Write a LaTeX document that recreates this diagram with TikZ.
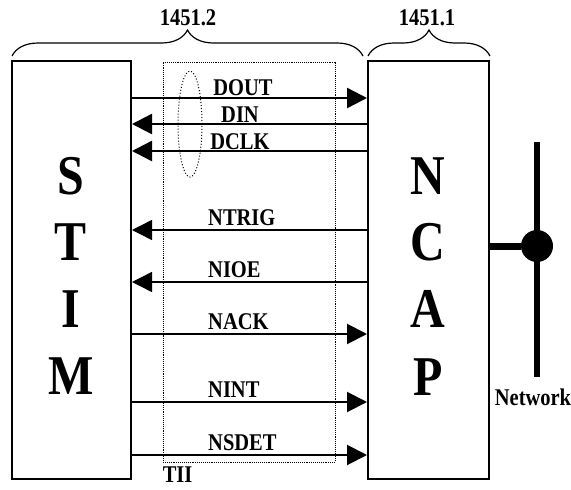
\documentclass[tikz,border=0pt]{standalone}
\usepackage{graphicx}
\usepackage{fontspec}
\setmainfont{Liberation Serif}
\usetikzlibrary{arrows.meta,decorations.pathreplacing,shapes.geometric}
\newcommand\vsc[1]{\scalebox{1}[1.17]{#1}}
\begin{document}
\begin{tikzpicture}[x=1pt,y=-1pt,
  lbl/.style={font=\bfseries\fontsize{20.5}{20.5}\selectfont, inner sep=0pt},
  big/.style={font=\bfseries\fontsize{48}{48}\selectfont, inner sep=0pt},
  blockbox/.style={draw, line width=2pt, rectangle, minimum height=418pt, inner sep=0pt},
  sigthick/.style={line width=2.4pt, -{Triangle[length=20pt,width=20pt]}},
  sigmid/.style={line width=2pt, -{Triangle[length=20pt,width=20pt]}},
  sigthin/.style={line width=1.4pt, -{Triangle[length=20pt,width=20pt]}},
  bracestyle/.style={line width=1.2pt, decorate, decoration={brace, amplitude=26pt}}]
\useasboundingbox (0,0) rectangle (571,490);
\fill[white] (0,0) rectangle (571,490);

% blocks
\node[blockbox, minimum width=119pt] (stim) at (71.5,270) {};
\node[blockbox, minimum width=121pt] (ncap) at (428.5,270) {};
\node[draw, densely dotted, line width=0.9pt, minimum width=172pt, minimum height=400pt, inner sep=0pt] (tii) at (249,262) {};
\node[draw, dotted, line width=1pt, ellipse, minimum width=24pt, minimum height=106pt, inner sep=0pt] (grp) at (190,124) {};

% big letters
\node[big] (s) at (71,176) {\vsc{S}};
\node[big] (t) at (71,242) {\vsc{T}};
\node[big] (i) at (71,309) {\vsc{I}};
\node[big] (m) at (71,376) {\vsc{M}};
\node[big] (n) at (428,176) {\vsc{N}};
\node[big] (c) at (428,242) {\vsc{C}};
\node[big] (a) at (428,309) {\vsc{A}};
\node[big] (p) at (428,377) {\vsc{P}};

% signal levels
\coordinate (ydout) at (0,98);
\coordinate (ydin) at (0,124);
\coordinate (ydclk) at (0,151);
\coordinate (yntrig) at (0,230);
\coordinate (ynioe) at (0,282);
\coordinate (ynack) at (0,334);
\coordinate (ynint) at (0,402);
\coordinate (ynsdet) at (0,455);

\draw[sigthick] (stim.east |- ydout) -- (ncap.west |- ydout);
\draw[sigthick] (ncap.west |- ydin) -- (stim.east |- ydin);
\draw[sigthick] (ncap.west |- ydclk) -- (stim.east |- ydclk);
\draw[sigthin] (ncap.west |- yntrig) -- (stim.east |- yntrig);
\draw[sigthin] (ncap.west |- ynioe) -- (stim.east |- ynioe);
\draw[sigmid] (stim.east |- ynack) -- (ncap.west |- ynack);
\draw[sigmid] (stim.east |- ynint) -- (ncap.west |- ynint);
\draw[sigmid] (stim.east |- ynsdet) -- (ncap.west |- ynsdet);

% signal labels
\node[lbl] (ldout) at (243,88) {\vsc{DOUT}};
\node[lbl] (ldin) at (240,115) {\vsc{DIN}};
\node[lbl] (ldclk) at (240,142) {\vsc{DCLK}};
\node[lbl, anchor=west] (lntrig) at (208,218) {\vsc{NTRIG}};
\node[lbl, anchor=west] (lnioe) at (208,270) {\vsc{NIOE}};
\node[lbl, anchor=west] (lnack) at (208,322) {\vsc{NACK}};
\node[lbl, anchor=west] (lnint) at (208,390) {\vsc{NINT}};
\node[lbl, anchor=west] (lnsdet) at (208,443) {\vsc{NSDET}};
\node[lbl, anchor=north west] (ltii) at ([yshift=-4pt]tii.south west) {\vsc{TII}};

% braces
\coordinate (b1a) at (12,56);
\coordinate (b1b) at (363,56);
\coordinate (b2a) at (368,56);
\coordinate (b2b) at (490,56);
\draw[bracestyle] (b1a) -- (b1b);
\draw[bracestyle] (b2a) -- (b2b);
\node[lbl] (l12) at (188,18) {\vsc{1451.2}};
\node[lbl] (l11) at (427,18) {\vsc{1451.1}};

% network
\node[circle, fill, minimum size=32pt, inner sep=0pt] (dot) at (537,246) {};
\coordinate (ntop) at (537,142);
\coordinate (nbot) at (537,377);
\draw[line width=6pt] (ntop) -- (nbot);
\draw[line width=7pt] (ncap.east |- dot) -- (dot);
\node[lbl] (lnet) at (533,397) {\vsc{Network}};
\end{tikzpicture}
\end{document}
